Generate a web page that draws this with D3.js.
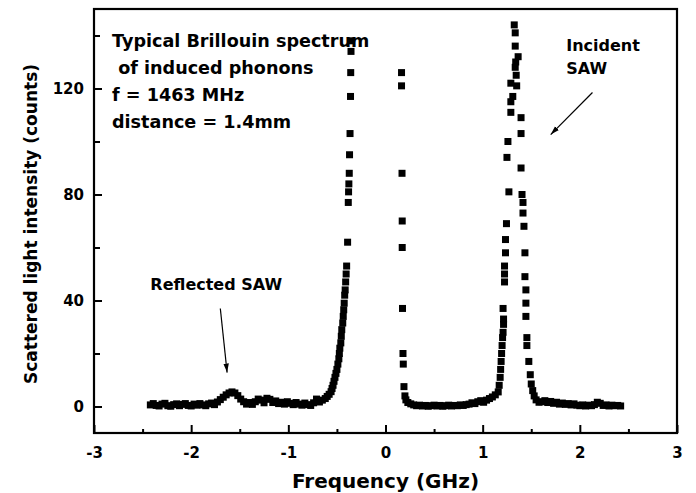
<!DOCTYPE html>
<html>
<head>
<meta charset="utf-8">
<script src="https://cdn.jsdelivr.net/npm/d3@7"></script>
<style>
  body { margin: 0; background: #fff; }
  svg text { font-family: "DejaVu Sans", sans-serif; font-weight: bold; fill: #000; }
</style>
</head>
<body>
<div id="chart"></div>
<script>
// spectrum, [frequency GHz, counts]
var leftWing = [
  [-2.42,0.6],[-2.39,1.1],[-2.36,0.4],[-2.33,0.2],[-2.30,0.9],[-2.27,1.2],[-2.24,0.3],[-2.21,0.1],
  [-2.18,0.7],[-2.15,1.0],[-2.12,0.3],[-2.09,0.8],[-2.06,1.1],[-2.03,0.4],[-2.00,0.2],[-1.97,0.9],
  [-1.94,0.5],[-1.91,1.1],[-1.88,0.6],[-1.85,0.3],[-1.82,1.0],[-1.79,1.3],[-1.76,0.7],[-1.73,1.7],
  [-1.70,2.6],[-1.67,3.5],[-1.64,4.4],[-1.61,5.1],[-1.58,5.5],[-1.55,5.1],[-1.52,4.1],[-1.49,2.8],
  [-1.46,1.8],[-1.43,0.9],[-1.40,1.5],[-1.37,0.8],[-1.34,1.8],[-1.31,2.8],[-1.28,2.4],[-1.25,1.4],
  [-1.22,3.1],[-1.19,2.7],[-1.16,1.5],[-1.13,2.1],[-1.10,1.1],[-1.07,1.6],[-1.04,0.9],[-1.01,1.8],
  [-0.98,1.2],[-0.95,0.7],[-0.92,1.5],[-0.89,0.9],[-0.86,0.5],[-0.83,1.3],[-0.80,0.7],[-0.77,0.4],
  [-0.74,1.4],[-0.71,2.8],[-0.68,1.7],[-0.65,2.4]
];
var antiStokesPeak = [
  [-0.62,3.0],[-0.60,3.8],[-0.58,4.6],[-0.56,5.6],[-0.55,6.8],[-0.54,8.0],[-0.53,9.5],[-0.52,11],
  [-0.51,12.5],[-0.50,14],[-0.49,16],[-0.48,18],[-0.475,20],[-0.47,22],[-0.46,24],[-0.455,26.5],
  [-0.45,29],[-0.44,31.5],[-0.435,34],[-0.43,36.5],[-0.425,39],[-0.42,42],[-0.415,44],[-0.41,47],
  [-0.405,50],[-0.40,53],[-0.39,62],[-0.383,77],[-0.38,81],[-0.377,84],[-0.373,88],[-0.37,95],
  [-0.365,103],[-0.36,117],[-0.358,126],[-0.355,134],[-0.352,138]
];
var centralLine = [
  [0.165,126],[0.165,121],[0.17,88],[0.172,70],[0.172,60],[0.175,37],[0.18,20],[0.183,16],
  [0.19,7.5],[0.20,4],[0.21,2.5],[0.23,1.5]
];
var middleBase = [
  [0.26,1.0],[0.29,0.6],[0.32,0.3],[0.35,0.5],[0.38,0.2],[0.41,0.4],[0.44,0.1],[0.47,0.3],
  [0.50,0.5],[0.53,0.2],[0.56,0.4],[0.59,0.1],[0.62,0.3],[0.65,0.5],[0.68,0.2],[0.71,0.4],
  [0.74,0.3],[0.77,0.6],[0.80,0.4],[0.83,0.7],[0.86,0.9],[0.89,1.4],[0.92,1.1],[0.95,1.8],
  [0.98,2.2],[1.01,1.6],[1.04,2.4],[1.07,3.0],[1.10,3.6],[1.13,4.4]
];
var stokesPeak = [
  [1.16,5.5],[1.17,8],[1.18,11],[1.185,14],[1.19,17],[1.195,20],[1.20,23],[1.205,26],
  [1.21,28],[1.215,31],[1.215,33],[1.21,37],[1.225,47],[1.225,50],[1.225,53],[1.235,58],
  [1.235,63],[1.245,69],[1.27,81],[1.25,94],[1.26,100],[1.29,111],[1.29,115],[1.29,122],
  [1.31,117],[1.345,125],[1.335,128],[1.34,130],[1.365,132],[1.335,136],[1.335,141],[1.325,144],
  [1.35,121],[1.395,109],[1.395,103],[1.395,90],[1.405,80],[1.415,77],[1.415,73],[1.425,68],
  [1.435,58],[1.435,49],[1.445,44],[1.445,39],[1.445,34],[1.455,26],[1.455,23],[1.475,17],
  [1.49,12],[1.50,8.5],[1.515,6],[1.53,4],[1.55,2.5],[1.58,1.6]
];
var rightWing = [
  [1.61,1.8],[1.64,2.2],[1.67,1.5],[1.70,1.9],[1.73,1.2],[1.76,1.6],[1.79,0.9],[1.82,1.3],
  [1.85,0.8],[1.88,1.1],[1.91,0.6],[1.94,1.0],[1.97,0.5],[2.00,0.3],[2.03,0.6],[2.06,0.2],
  [2.09,0.5],[2.12,0.3],[2.15,0.7],[2.18,1.6],[2.21,1.2],[2.24,0.4],[2.27,0.6],[2.30,0.2],
  [2.33,0.5],[2.36,0.3],[2.39,0.4],[2.42,0.2]
];

var xTicks = [-3, -2, -1, 0, 1, 2, 3];
var xMinorTicks = [-2.5, -1.5, -0.5, 0.5, 1.5, 2.5];
var yTicks = [0, 40, 80, 120];
var yMinorTicks = [20, 60, 100, 140];

var infoLines = ["Typical Brillouin spectrum", " of induced phonons", "f = 1463 MHz", "distance = 1.4mm"];

var width = 696, height = 493;
var margin = { top: 9, right: 19, bottom: 60, left: 94 };

var svg = d3.select("#chart").append("svg")
    .attr("width", width)
    .attr("height", height);

var defs = svg.append("defs");
defs.append("marker")
    .attr("id", "arrow")
    .attr("viewBox", "0 0 10 10")
    .attr("refX", 10).attr("refY", 5)
    .attr("markerWidth", 9).attr("markerHeight", 9)
    .attr("markerUnits", "userSpaceOnUse")
    .attr("orient", "auto")
    .append("path")
    .attr("d", "M0,2 L10,5 L0,8 z")
    .attr("fill", "#000");

var x = d3.scaleLinear().domain([-3, 3]).range([margin.left, width - margin.right]);
var y = d3.scaleLinear().domain([-10, 150]).range([height - margin.bottom, margin.top]);

var bottom = height - margin.bottom;
var plain = function (d) { return String(d); };

// minor ticks first
svg.append("g")
    .attr("transform", "translate(0," + bottom + ")")
    .call(d3.axisBottom(x).tickValues(xMinorTicks).tickSize(-4).tickFormat(""))
    .call(function (g) { g.select(".domain").remove(); })
    .selectAll("line").attr("stroke-width", 2);

svg.append("g")
    .attr("transform", "translate(" + margin.left + ",0)")
    .call(d3.axisLeft(y).tickValues(yMinorTicks).tickSize(-6).tickFormat(""))
    .call(function (g) { g.select(".domain").remove(); })
    .selectAll("line").attr("stroke-width", 2);

var xAxis = svg.append("g")
    .attr("transform", "translate(0," + bottom + ")")
    .call(d3.axisBottom(x).tickValues(xTicks).tickSize(-8).tickPadding(14).tickFormat(plain));
xAxis.select(".domain").remove();
xAxis.selectAll("line").attr("stroke-width", 2);
xAxis.selectAll("text").attr("font-size", 15).style("font-family", '"DejaVu Sans", sans-serif');

var yAxis = svg.append("g")
    .attr("transform", "translate(" + margin.left + ",0)")
    .call(d3.axisLeft(y).tickValues(yTicks).tickSize(-8).tickPadding(10).tickFormat(plain));
yAxis.select(".domain").remove();
yAxis.selectAll("line").attr("stroke-width", 2);
yAxis.selectAll("text").attr("font-size", 15).style("font-family", '"DejaVu Sans", sans-serif');

// frame
svg.append("rect")
    .attr("x", margin.left)
    .attr("y", margin.top)
    .attr("width", width - margin.left - margin.right)
    .attr("height", height - margin.top - margin.bottom)
    .attr("fill", "none")
    .attr("stroke", "#000")
    .attr("stroke-width", 2.2);

// data
var all = [].concat(leftWing, antiStokesPeak, centralLine, middleBase, stokesPeak, rightWing);
var s = 7;
svg.append("g").selectAll("rect")
    .data(all)
    .enter().append("rect")
    .attr("x", function (d) { return x(d[0]) - s / 2; })
    .attr("y", function (d) { return y(d[1]) - s / 2; })
    .attr("width", s)
    .attr("height", s)
    .attr("fill", "#000");

// text block top-left
svg.append("g").selectAll("text")
    .data(infoLines)
    .enter().append("text")
    .attr("x", 112)
    .attr("y", function (d, i) { return 47 + i * 27; })
    .attr("font-size", 17.6)
    .style("white-space", "pre")
    .text(function (d) { return d; });

// annotations (anchored in data units)
svg.append("text").attr("x", x(-2.42)).attr("y", y(44)).attr("font-size", 16).text("Reflected SAW");
svg.append("line")
    .attr("x1", x(-1.70)).attr("y1", y(37))
    .attr("x2", x(-1.63)).attr("y2", y(12.8))
    .attr("stroke", "#000").attr("stroke-width", 1.2)
    .attr("marker-end", "url(#arrow)");

svg.append("text").attr("x", x(1.86)).attr("y", y(134)).attr("font-size", 16).text("Incident");
svg.append("text").attr("x", x(1.86)).attr("y", y(125.5)).attr("font-size", 16).text("SAW");
svg.append("line")
    .attr("x1", x(2.13)).attr("y1", y(118.5))
    .attr("x2", x(1.70)).attr("y2", y(102.6))
    .attr("stroke", "#000").attr("stroke-width", 1.2)
    .attr("marker-end", "url(#arrow)");

// axis titles
svg.append("text")
    .attr("x", (margin.left + width - margin.right) / 2)
    .attr("y", 488)
    .attr("text-anchor", "middle")
    .attr("font-size", 20)
    .text("Frequency (GHz)");

svg.append("text")
    .attr("transform", "translate(37," + 224 + ") rotate(-90)")
    .attr("text-anchor", "middle")
    .attr("font-size", 17)
    .text("Scattered light intensity (counts)");
</script>
</body>
</html>
